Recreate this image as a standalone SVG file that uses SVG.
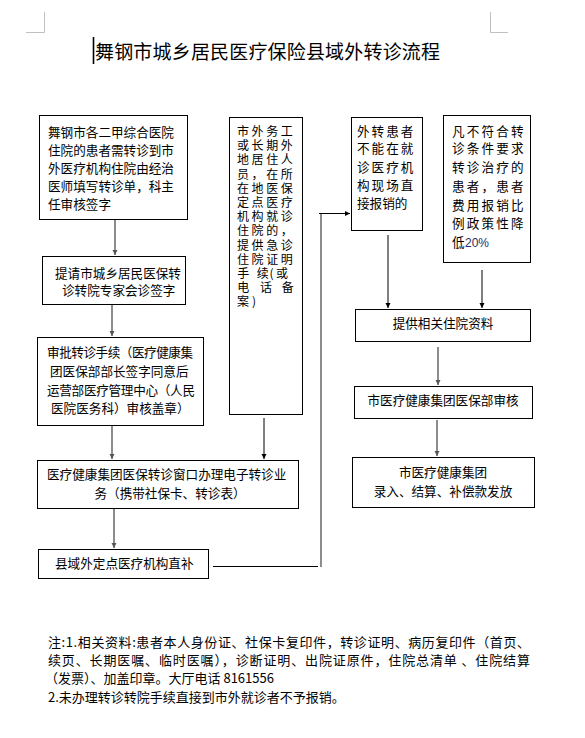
<svg xmlns="http://www.w3.org/2000/svg" width="585" height="738" viewBox="0 0 585 738">
<style>
text{font-family:"Noto Sans CJK SC","Noto Sans",sans-serif;fill:#000;}
.t{font-size:12.6px;}
.ta{font-size:12px;}
.n{font-size:13px;}
.ttl{font-size:19px;}
.box{fill:#fff;stroke:#000;stroke-width:1;}
.g{stroke:#808080;stroke-width:1.8;fill:none;}
.k{stroke:#000;stroke-width:1;fill:none;}
.crn{stroke:#c0c0c0;stroke-width:1;fill:none;}
.mid{text-anchor:middle;}
</style>
<defs>
<marker id="ah" markerUnits="userSpaceOnUse" markerWidth="6" markerHeight="6" refX="5" refY="3" orient="auto">
<path d="M0,0.5 L5,3 L0,5.5 Z" fill="#000"/>
</marker>
<marker id="ahg" markerUnits="userSpaceOnUse" markerWidth="6" markerHeight="6" refX="5" refY="3" orient="auto">
<path d="M0,0.5 L5,3 L0,5.5 Z" fill="#555"/>
</marker>
</defs>
<rect width="585" height="738" fill="#fff"/>
<path class="crn" d="M44.5,12 V32.5 H26 M490.5,12 V32.5 H508"/>
<line x1="93.5" y1="37" x2="93.5" y2="64" stroke="#000" stroke-width="1.6"/>
<text class="ttl" x="95" y="58.5" textLength="345" lengthAdjust="spacing">舞钢市城乡居民医疗保险县域外转诊流程</text>

<g id="connectors">
<line class="g" x1="115" y1="219" x2="115" y2="255" marker-end="url(#ahg)"/>
<line class="g" x1="112" y1="304" x2="112" y2="336" marker-end="url(#ahg)"/>
<line class="g" x1="112" y1="425" x2="112" y2="459" marker-end="url(#ahg)"/>
<line class="g" x1="114" y1="508" x2="114" y2="548" marker-end="url(#ahg)"/>
<line class="k" x1="264" y1="418" x2="264" y2="459" marker-end="url(#ah)"/>
<line class="k" x1="388" y1="235" x2="388" y2="308" marker-end="url(#ah)"/>
<line class="k" x1="482" y1="270" x2="482" y2="308" marker-end="url(#ah)"/>
<line class="g" x1="438" y1="347" x2="438" y2="385" marker-end="url(#ahg)"/>
<line class="g" x1="437" y1="420" x2="437" y2="456" marker-end="url(#ahg)"/>
<line class="k" x1="213" y1="566.5" x2="318" y2="566.5"/>
<line class="g" x1="321" y1="567" x2="321" y2="213"/>
<line class="k" x1="319" y1="213.5" x2="350" y2="213.5" stroke="#333" marker-end="url(#ah)"/>
</g>

<g id="n1">
<rect class="box" x="39.5" y="115.5" width="148" height="104"/>
<text class="t" x="48" y="136.5">舞钢市各二甲综合医院</text>
<text class="t" x="48" y="154.8">住院的患者需转诊到市</text>
<text class="t" x="48" y="173.1">外医疗机构住院由经治</text>
<text class="t" x="48" y="191.4">医师填写转诊单，科主</text>
<text class="t" x="48" y="209">任审核签字</text>
</g>

<g id="n2">
<rect class="box" x="42.5" y="256.5" width="143" height="48"/>
<text class="t" x="55" y="278">提请市城乡居民医保转</text>
<text class="t" x="62" y="295">诊转院专家会诊签字</text>
</g>

<g id="n3">
<rect class="box" x="37.5" y="337.5" width="166" height="88"/>
<text class="t" x="47" y="357" textLength="146" lengthAdjust="spacing">审批转诊手续（医疗健康集</text>
<text class="t" x="50" y="376">团医保部部长签字同意后</text>
<text class="t" x="47" y="394.5" textLength="148" lengthAdjust="spacing">运营部医疗管理中心（人民</text>
<text class="t" x="51" y="413">医院医务科）审核盖章）</text>
</g>

<g id="n4">
<rect class="box" x="37.5" y="460.5" width="261" height="48"/>
<text class="t" x="47" y="479">医疗健康集团医保转诊窗口办理电子转诊业</text>
<text class="t mid" x="170" y="498">务（携带社保卡、转诊表）</text>
</g>

<g id="n5">
<rect class="box" x="38.5" y="549.5" width="170" height="29"/>
<text class="t" x="55" y="568">县域外定点医疗机构直补</text>
</g>

<g id="nA">
<rect class="box" x="229.5" y="117.5" width="73" height="297"/>
<text class="ta"><tspan x="237 251.6 266.2 280.8" y="136">市外务工</tspan><tspan x="237 251.6 266.2 280.8" y="150.2">或长期外</tspan><tspan x="237 251.6 266.2 280.8" y="164.4">地居住人</tspan><tspan x="237 251.6 266.2 280.8" y="178.6">员，在所</tspan><tspan x="237 251.6 266.2 280.8" y="192.8">在地医保</tspan><tspan x="237 251.6 266.2 280.8" y="207">定点医疗</tspan><tspan x="237 251.6 266.2 280.8" y="221.2">机构就诊</tspan><tspan x="237 251.6 266.2 280.8" y="235.4">住院的，</tspan><tspan x="237 251.6 266.2 280.8" y="249.6">提供急诊</tspan><tspan x="237 251.6 266.2 280.8" y="263.8">住院证明</tspan><tspan x="237.3 256.7 269.5 276" y="278">手续(或</tspan><tspan x="237.3 260 281.7" y="292.2">电话备</tspan><tspan x="237 252" y="306.4">案)</tspan></text>
</g>

<g id="nB">
<rect class="box" x="351.5" y="117.5" width="71" height="113"/>
<text class="t" x="357 371.6 386.2 400.8" y="135.5">外转患者</text>
<text class="t" x="357 371.6 386.2 400.8" y="153.1">不能在就</text>
<text class="t" x="357 371.6 386.2 400.8" y="171.5">诊医疗机</text>
<text class="t" x="357 371.6 386.2 400.8" y="189.8">构现场直</text>
<text class="t" x="357" y="208.1">接报销的</text>
</g>

<g id="nC">
<rect class="box" x="443.5" y="115.5" width="87" height="147"/>
<text class="t" x="452 466.7 481.5 496.2 511" y="135.5">凡不符合转</text>
<text class="t" x="452 466.7 481.5 496.2 511" y="153.1">诊条件要求</text>
<text class="t" x="452 466.7 481.5 496.2 511" y="172.1">转诊治疗的</text>
<text class="t" x="452 466.7 481.5 496.2 511" y="190.8">患者，患者</text>
<text class="t" x="452 466.7 481.5 496.2 511" y="209.6">费用报销比</text>
<text class="t" x="452 466.7 481.5 496.2 511" y="227.5">例政策性降</text>
<text class="t" x="452" y="246.5">低<tspan x="465" style="font-family:'Liberation Sans',Arial,sans-serif;font-size:12px;fill:#1f2f66">20%</tspan></text>
</g>

<g id="nD">
<rect class="box" x="355.5" y="309.5" width="175" height="32"/>
<text class="t mid" x="443" y="328">提供相关住院资料</text>
</g>

<g id="nE">
<rect class="box" x="354.5" y="386.5" width="178" height="32"/>
<text class="t mid" x="443" y="405">市医疗健康集团医保部审核</text>
</g>

<g id="nF">
<rect class="box" x="352.5" y="457.5" width="182" height="50"/>
<text class="t mid" x="443" y="477">市医疗健康集团</text>
<text class="t mid" x="443" y="496">录入、结算、补偿款发放</text>
</g>

<g id="notes">
<text class="n" x="48" y="647" textLength="482" lengthAdjust="spacing">注:1.相关资料:患者本人身份证、社保卡复印件，转诊证明、病历复印件（首页、</text>
<text class="n" x="48" y="665" textLength="482" lengthAdjust="spacing">续页、长期医嘱、临时医嘱），诊断证明、出院证原件，住院总清单 、住院结算</text>
<text class="n" x="45" y="683">（发票）、加盖印章。大厅电话 8161556</text>
<text class="n" x="48" y="702">2.未办理转诊转院手续直接到市外就诊者不予报销。</text>
</g>
</svg>
